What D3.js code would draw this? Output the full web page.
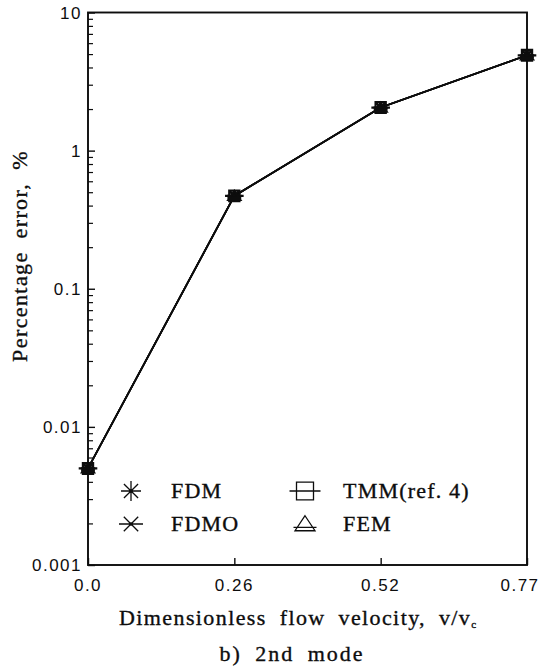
<!DOCTYPE html>
<html>
<head>
<meta charset="utf-8">
<script src="https://cdn.jsdelivr.net/npm/d3@7"></script>
<style>
  html, body { margin: 0; padding: 0; background: #fff; }
  svg { display: block; }
</style>
</head>
<body>
<svg id="chart" width="546" height="670"></svg>
<script>
// Flow velocity cases (dimensionless, v/vc)
const velocities = ["0.0", "0.26", "0.52", "0.77"];

// Percentage error of the 2nd mode frequency for each method
const fdmError  = [0.0050, 0.47, 2.05, 4.9];
const fdmoError = [0.0050, 0.47, 2.05, 4.9];
const tmmError  = [0.0050, 0.47, 2.05, 4.9];
const femError  = [0.0050, 0.47, 2.05, 4.9];

// Log axis decades and their labels
const yMajorTicks  = [0.001, 0.01, 0.1, 1, 10];
const yMajorLabels = ["0.001", "0.01", "0.1", "1", "10"];

const methodNames = ["FDM", "FDMO", "TMM(ref. 4)", "FEM"];

const SERIF = '"Liberation Serif", "Times New Roman", "DejaVu Serif", serif';
const SANS = '"Liberation Sans", Arial, "DejaVu Sans", sans-serif';
const INK = "#0d0d0d";

const svg = d3.select("#chart");
const W = 546, H = 670;
const margin = { left: 88, right: 19, top: 12.5, bottom: 105 };

const x = d3.scalePoint()
  .domain(velocities)
  .range([margin.left, W - margin.right]);

const y = d3.scaleLog()
  .domain([0.001, 10])
  .range([H - margin.bottom, margin.top]);

const x0 = x.range()[0], x1 = x.range()[1];
const y0 = y.range()[0], y1 = y.range()[1];

// Minor ticks 2..9 in each decade
const yMinorTicks = [];
for (let k = -3; k < 1; k++) {
  for (let m = 2; m <= 9; m++) yMinorTicks.push(m * Math.pow(10, k));
}

function serifText(sel, size) {
  return sel
    .style("font-family", SERIF)
    .style("font-size", size + "px")
    .attr("fill", INK)
    .attr("stroke", INK)
    .attr("stroke-width", 0.35);
}

// ---- Axes (ticks point into the plot) ----
const axisG = svg.append("g");

const leftAxis = d3.axisRight(y)
  .tickValues(yMajorTicks)
  .tickFormat(() => "")
  .tickSize(7)
  .tickSizeOuter(0);
axisG.append("g")
  .attr("transform", `translate(${x0},0)`)
  .call(leftAxis)
  .call(g => g.select(".domain").remove())
  .call(g => g.selectAll("line").attr("stroke", INK).attr("stroke-width", 1.4));

const leftMinor = d3.axisRight(y)
  .tickValues(yMinorTicks)
  .tickFormat(() => "")
  .tickSize(5)
  .tickSizeOuter(0);
axisG.append("g")
  .attr("transform", `translate(${x0},0)`)
  .call(leftMinor)
  .call(g => g.select(".domain").remove())
  .call(g => g.selectAll("line").attr("stroke", INK).attr("stroke-width", 1.2));

// Y tick labels
axisG.append("g").selectAll("text")
  .data(yMajorTicks)
  .join("text")
  .attr("x", x0 - 6)
  .attr("y", d => y(d))
  .attr("dy", "0.36em")
  .attr("text-anchor", "end")
  .attr("fill", INK)
  .style("font-family", SANS)
  .style("font-size", "17px")
  .style("letter-spacing", "1.5px")
  .text((d, i) => yMajorLabels[i]);

// Bottom axis ticks
const bottomAxis = d3.axisTop(x)
  .tickFormat(() => "")
  .tickSize(7)
  .tickSizeOuter(0);
axisG.append("g")
  .attr("transform", `translate(0,${y0})`)
  .call(bottomAxis)
  .call(g => g.select(".domain").remove())
  .call(g => g.selectAll("line").attr("stroke", INK).attr("stroke-width", 1.4));

// X tick labels (kept inside the page on the right)
axisG.append("g").selectAll("text")
  .data(velocities)
  .join("text")
  .attr("x", d => Math.min(x(d), W - 26))
  .attr("y", y0 + 26)
  .attr("text-anchor", "middle")
  .attr("fill", INK)
  .style("font-family", SANS)
  .style("font-size", "17px")
  .style("letter-spacing", "1.5px")
  .text(d => d);

// Plot frame
svg.append("rect")
  .attr("x", x0)
  .attr("y", y1)
  .attr("width", x1 - x0)
  .attr("height", y0 - y1)
  .attr("fill", "none")
  .attr("stroke", INK)
  .attr("stroke-width", 1.9);

// ---- Marker shapes ----
function asterisk8(cx, cy, r) {
  const p = d3.path();
  for (let a = 0; a < 4; a++) {
    const t = a * Math.PI / 4;
    p.moveTo(cx - r * Math.cos(t), cy - r * Math.sin(t));
    p.lineTo(cx + r * Math.cos(t), cy + r * Math.sin(t));
  }
  return p.toString();
}
function asterisk6(cx, cy, r) {
  const p = d3.path();
  p.moveTo(cx - r * 1.2, cy); p.lineTo(cx + r * 1.2, cy);
  const d = r * 0.72;
  p.moveTo(cx - d, cy - d); p.lineTo(cx + d, cy + d);
  p.moveTo(cx - d, cy + d); p.lineTo(cx + d, cy - d);
  return p.toString();
}
function boxLine(cx, cy, r) {
  const p = d3.path();
  const h = r * 0.85;
  p.rect(cx - h, cy - h * 1.05, 2 * h, 2.1 * h);
  p.moveTo(cx - r * 1.55, cy); p.lineTo(cx + r * 1.55, cy);
  return p.toString();
}
function triLine(cx, cy, r) {
  const p = d3.path();
  const w = r, h = r * 1.5;
  p.moveTo(cx, cy - h * 0.55);
  p.lineTo(cx + w, cy + h * 0.45);
  p.lineTo(cx - w, cy + h * 0.45);
  p.closePath();
  p.moveTo(cx - w * 1.15, cy + h * 0.22); p.lineTo(cx + w * 1.15, cy + h * 0.22);
  return p.toString();
}

const series = [
  { name: methodNames[0], values: fdmError,  shape: asterisk8 },
  { name: methodNames[1], values: fdmoError, shape: asterisk6 },
  { name: methodNames[2], values: tmmError,  shape: boxLine },
  { name: methodNames[3], values: femError,  shape: triLine }
];

// ---- Lines ----
const line = d3.line()
  .x(d => x(d.v))
  .y(d => y(d.e));

const plotG = svg.append("g");
series.forEach(s => {
  const pts = velocities.map((v, i) => ({ v, e: s.values[i] }));
  plotG.append("path")
    .datum(pts)
    .attr("d", line)
    .attr("fill", "none")
    .attr("stroke", INK)
    .attr("stroke-width", 1.7);
});

// ---- Markers ----
series.forEach(s => {
  plotG.append("g").selectAll("path")
    .data(velocities.map((v, i) => ({ v, e: s.values[i] })))
    .join("path")
    .attr("d", d => s.shape(x(d.v), y(d.e), 6))
    .attr("fill", "none")
    .attr("stroke", INK)
    .attr("stroke-width", 2.2);
});

// ---- Legend ----
const legend = svg.append("g");
const legendCols = [131, 305];
const legendRows = [491, 524];
series.forEach((s, i) => {
  const col = Math.floor(i / 2), row = i % 2;
  const cx = legendCols[col], cy = legendRows[row];
  legend.append("path")
    .attr("d", s.shape(cx, cy, 10))
    .attr("fill", "none")
    .attr("stroke", INK)
    .attr("stroke-width", 1.3);
  if (i < 2) {
    legend.append("circle").attr("cx", cx).attr("cy", cy).attr("r", 1.8).attr("fill", INK);
  }
  legend.append("text")
    .attr("x", col === 0 ? 171 : 343)
    .attr("y", cy + 7)
    .call(serifText, 22)
    .style("letter-spacing", "1.2px")
    .text(s.name);
});

// ---- Axis titles and caption ----
const xTitle = svg.append("text")
  .attr("x", 119)
  .attr("y", 625)
  .call(serifText, 22)
  .style("letter-spacing", "1.4px")
  .style("word-spacing", "6px");
xTitle.append("tspan").text("Dimensionless flow velocity, v/v");
xTitle.append("tspan")
  .attr("dy", "3")
  .style("font-size", "11px")
  .text("c");

svg.append("text")
  .attr("x", 292)
  .attr("y", 661)
  .attr("text-anchor", "middle")
  .call(serifText, 22)
  .style("letter-spacing", "2px")
  .style("word-spacing", "6px")
  .text("b) 2nd mode");

svg.append("text")
  .attr("transform", "translate(27,256) rotate(-90)")
  .attr("text-anchor", "middle")
  .call(serifText, 22)
  .style("letter-spacing", "1.4px")
  .style("word-spacing", "6px")
  .text("Percentage error, %");
</script>
</body>
</html>
